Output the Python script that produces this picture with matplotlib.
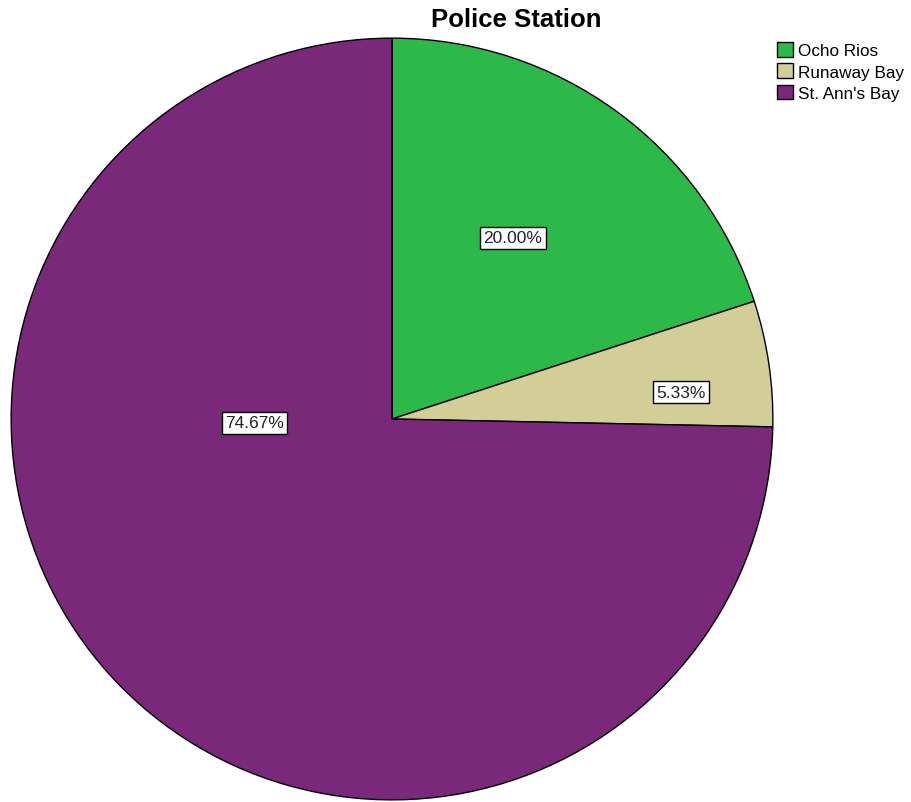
import numpy as np
import matplotlib.pyplot as plt

plt.rcParams['font.family'] = ['Liberation Sans', 'DejaVu Sans']

stations = ['Ocho Rios', 'Runaway Bay', "St. Ann's Bay"]
percents = [20.00, 5.33, 74.67]
colors = ['#2db84a', '#d3ce97', '#79287a']
# label anchors (angle in degrees, distance in radius units)
label_ang = [56.3, 5.3, 181.6]
label_dist = [0.572, 0.762, 0.361]

fig = plt.figure(figsize=(9.12, 8.03), dpi=100)
cx, cy, r = 392, 420, 382
ax = fig.add_axes([(cx - r) / 912, (803 - cy - r) / 803, 2 * r / 912, 2 * r / 803])

wedges, _ = ax.pie(percents, colors=colors, startangle=90, counterclock=False,
                   radius=1, wedgeprops=dict(edgecolor='black', linewidth=1))
ax.set_xlim(-1.003, 1.003)
ax.set_ylim(-1.003, 1.003)
ax.set_aspect('auto')

for p, a, d in zip(percents, label_ang, label_dist):
    t = np.deg2rad(a)
    ax.text(d * np.cos(t), d * np.sin(t), f'{p:.2f}%', ha='center', va='center',
            fontsize=12.5, color='#222222',
            bbox=dict(boxstyle='square,pad=0.2', facecolor='white', edgecolor='black', linewidth=1))

fig.text(516 / 912, 1 - 20 / 803, 'Police Station', ha='center', va='center',
         fontsize=18.5, fontweight='bold')

fig.legend(wedges, stations, loc='upper left', bbox_to_anchor=(777 / 912, 1 - 43 / 803),
           frameon=False, fontsize=12.3, handlelength=0.95, handleheight=0.95,
           handletextpad=0.3, labelspacing=0.3, borderaxespad=0, borderpad=0)

fig.savefig('out.png', dpi=100)
